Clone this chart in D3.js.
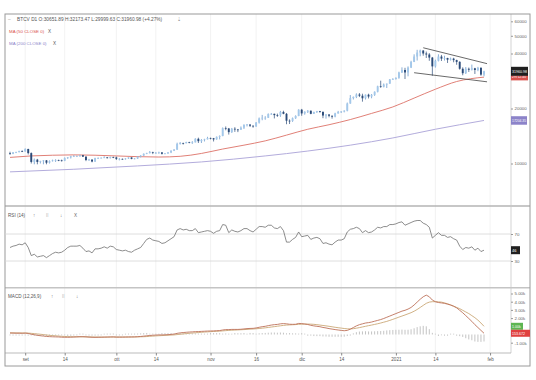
<!DOCTYPE html>
<html><head><meta charset="utf-8">
<script src="https://cdn.jsdelivr.net/npm/d3@7"></script>
<style>html,body{margin:0;padding:0;background:#fff;}svg{display:block;font-family:"Liberation Sans",Arial,sans-serif;}</style>
</head><body><svg id="c" width="536" height="380"></svg>
<script>
// ---------- DATA (prices in thousands USD, daily from 27 Aug 2020) ----------
const firstDay = new Date(2020, 7, 27);
const opens = [11.4,11.3,11.5,11.55,11.7,
 11.65,12.0,11.4,10.2,10.5,10.2,10.3,10.4,10.1,10.3,10.4,10.45,10.4,10.35,10.7,10.8,10.95,10.95,10.95,11.1,10.9,10.45,10.5,10.25,10.7,10.7,10.75,10.8,10.7,10.85,
 10.8,10.6,10.6,10.55,10.65,10.8,10.6,10.65,10.9,11.05,11.3,11.4,11.55,11.45,11.45,11.5,11.3,11.35,11.5,11.75,11.9,12.8,12.95,12.9,13.1,13.0,13.05,13.65,13.25,13.45,13.55,
 13.8,13.75,13.55,14.0,14.15,15.6,15.55,14.85,15.5,15.35,15.3,15.7,16.3,16.35,16.1,15.95,16.75,17.65,17.8,17.8,18.65,18.7,18.4,18.35,19.15,18.7,17.15,17.1,17.7,18.2,
 19.7,18.8,19.2,19.45,18.7,19.15,19.35,19.15,18.3,18.55,18.25,18.05,18.8,19.15,19.25,19.45,21.3,22.8,23.15,23.85,23.5,22.75,23.8,23.25,23.75,24.7,26.45,26.3,27.05,27.35,28.85,
 29.0,29.4,31.5,32.5,31.5,33.5,36.0,38.5,40.5,41.5,40.0,39.5,38.0,34.0,36.5,38.5,37.5,37.8,37.0,37.5,36.8,36.0,33.0,31.2,33.0,32.6,33.2,32.5,33.4,30.65];
const highs = [11.6,11.55,11.6,11.75,11.8,
 12.1,12.05,11.5,10.65,10.6,10.35,10.45,10.45,10.4,10.5,10.55,10.5,10.5,10.8,10.85,11.0,11.1,11.05,11.15,11.15,10.95,10.6,10.55,10.75,10.8,10.8,10.95,10.85,10.9,10.9,
 10.9,10.7,10.65,10.7,10.8,10.8,10.7,10.95,11.1,11.35,11.45,11.7,11.6,11.55,11.6,11.55,11.4,11.55,11.8,12.0,13.0,13.1,13.0,13.15,13.15,13.25,13.75,13.85,13.6,13.65,14.0,
 13.85,13.8,14.05,14.25,15.75,15.95,15.65,15.65,15.8,15.45,15.95,16.35,16.45,16.35,16.15,16.85,17.85,18.45,18.15,18.8,18.9,18.75,18.75,19.4,19.45,18.9,17.45,17.85,18.35,19.8,
 19.9,19.3,19.6,19.5,19.2,19.4,19.4,19.3,18.6,18.6,18.3,18.95,19.4,19.35,19.55,21.55,23.7,23.25,24.2,24.3,24.1,23.85,24.1,24.0,24.8,26.65,28.4,27.4,27.4,29.0,29.3,
 29.6,31.8,33.6,33.4,34.0,36.5,39.6,41.9,42.0,41.8,41.0,40.2,38.3,37.0,39.6,39.3,38.9,37.9,38.0,37.9,37.0,36.3,33.6,33.7,33.5,34.8,33.4,33.8,33.6,32.17];
const lows = [11.15,11.25,11.4,11.5,11.55,
 11.6,11.2,10.0,9.9,9.9,10.0,9.9,9.9,10.0,10.25,10.2,10.3,10.25,10.3,10.6,10.65,10.85,10.85,10.9,10.85,10.3,10.35,10.15,10.2,10.6,10.65,10.7,10.65,10.65,10.7,
 10.45,10.4,10.5,10.5,10.6,10.55,10.55,10.6,10.8,11.0,11.25,11.35,11.25,11.3,11.3,11.2,11.25,11.3,11.4,11.7,11.9,12.7,12.7,12.9,12.9,12.8,13.05,12.95,12.95,13.2,13.55,
 13.55,13.2,13.5,13.55,14.1,15.2,14.4,14.7,14.9,14.85,15.3,15.45,15.95,15.85,15.7,15.9,16.55,17.25,17.35,17.75,18.45,17.65,18.0,18.0,18.6,16.4,16.45,16.9,17.55,18.15,
 18.25,18.5,18.9,18.6,18.7,18.9,18.95,17.7,17.6,17.9,17.6,17.9,18.75,18.9,19.05,19.3,21.25,22.4,22.8,23.1,21.8,22.4,22.7,22.75,23.45,24.5,25.95,26.1,25.9,27.3,28.7,
 28.8,29.1,31.3,29.0,30.0,33.3,35.9,36.6,38.6,38.9,37.8,36.5,30.2,33.5,36.2,36.4,36.6,35.5,36.6,35.8,34.7,32.6,30.4,30.9,31.7,32.3,30.9,32.0,30.2,30.0];
const closes = [11.3,11.5,11.55,11.7,11.65,
 12.0,11.4,10.2,10.5,10.2,10.3,10.4,10.1,10.3,10.4,10.45,10.4,10.35,10.7,10.8,10.95,10.95,10.95,11.1,10.9,10.45,10.5,10.25,10.7,10.7,10.75,10.8,10.7,10.85,10.8,
 10.6,10.6,10.55,10.65,10.8,10.6,10.65,10.9,11.05,11.3,11.4,11.55,11.45,11.45,11.5,11.3,11.35,11.5,11.75,11.9,12.8,12.95,12.9,13.1,13.0,13.05,13.65,13.25,13.45,13.55,13.8,
 13.75,13.55,14.0,14.15,15.6,15.55,14.85,15.5,15.35,15.3,15.7,16.3,16.35,16.1,15.95,16.75,17.65,17.8,17.8,18.65,18.7,18.4,18.35,19.15,18.7,17.15,17.1,17.7,18.2,19.7,
 18.8,19.2,19.45,18.7,19.15,19.35,19.15,18.3,18.55,18.25,18.05,18.8,19.15,19.25,19.45,21.3,22.8,23.15,23.85,23.5,22.75,23.8,23.25,23.75,24.7,26.45,26.3,27.05,27.35,28.85,29.0,
 29.4,31.5,32.5,31.5,33.5,36.0,38.5,40.5,41.5,40.0,39.5,38.0,34.0,36.5,38.5,37.5,37.8,37.0,37.5,36.8,36.0,33.0,31.2,33.0,32.6,33.2,32.5,33.4,30.65,31.96];

// moving averages (sampled: day index, value in thousands)
const ma50Days   = [0,7,14,21,28,35,42,49,56,63,70,77,84,91,98,105,112,119,126,133,140,147,156];
const ma50Values = [10.8,11.0,11.1,11.15,11.1,11.0,10.9,10.85,10.95,11.35,12.0,12.6,13.3,14.3,15.4,16.3,17.4,18.8,20.4,22.8,25.5,28.1,29.7];
const ma200Days   = [0,21,42,63,84,98,112,126,140,156];
const ma200Values = [9.0,9.3,9.7,10.2,11.0,11.7,12.6,13.8,15.4,17.2];

// wedge trendlines (day index, price in thousands)
const upperTrend = [[136,43.0],[157,35.2]];
const lowerTrend = [[133,31.4],[157,28.0]];

const rsi = [50,52,53,55,54,57,50,
 38,40,36,37,38,35,38,41,43,42,43,46,50,52,52,52,53,49,44,45,42,48,48,49,51,49,52,51,
 47,46,45,46,44,43,46,48,50,56,62,64,61,60,59,56,57,60,63,66,76,
 78,76,77,75,75,78,72,73,74,75,
 74,71,74,75,84,83,72,76,74,73,75,78,78,75,73,77,81,81,80,83,83,79,78,81,75,58,58,62,65,73,
 66,67,68,62,64,65,63,56,57,55,54,58,61,61,63,73,77,78,80,78,72,75,72,73,76,80,79,81,81,84,84,
 85,87,88,83,85,87,89,90,90,86,84,80,64,68,72,68,68,65,66,63,61,52,47,50,49,51,46,49,44,46];

// MACD (thousands)
const macd = [0.18,0.17,0.16,0.16,0.15,0.17,0.13,
 0.03,-0.03,-0.1,-0.15,-0.19,-0.24,-0.26,-0.28,-0.29,-0.3,
 -0.33,-0.34,-0.34,-0.33,-0.31,-0.29,-0.27,-0.27,-0.29,-0.32,-0.34,-0.35,-0.34,-0.33,-0.32,-0.31,-0.3,-0.29,
 -0.32,-0.32,-0.32,-0.31,-0.3,-0.3,-0.29,-0.27,-0.24,-0.2,-0.16,-0.12,-0.09,-0.07,-0.05,-0.05,-0.04,-0.02,0.01,0.05,0.14,
 0.2,0.24,0.27,0.3,0.32,0.35,0.36,0.38,0.4,0.42,
 0.43,0.44,0.46,0.48,0.55,0.6,0.6,0.62,0.62,0.62,0.64,0.68,0.72,0.74,0.75,0.8,0.88,0.95,1.0,1.08,1.15,1.2,1.23,1.3,1.33,1.3,1.25,1.24,1.25,1.35,
 1.33,1.28,1.22,1.12,1.05,1.0,0.95,0.86,0.8,0.72,0.66,0.6,0.55,0.5,0.46,0.5,0.65,0.85,1.05,1.2,1.3,1.4,1.45,1.52,1.62,1.72,1.82,1.95,2.1,2.25,2.4,
 2.55,2.7,2.85,2.95,3.1,3.3,3.6,3.95,4.3,4.6,4.8,4.6,4.2,4.0,3.9,3.85,3.8,3.7,3.6,3.45,3.25,2.95,2.65,2.3,1.95,1.6,1.2,0.85,0.5,0.15];
const signal = [0.2,0.2,0.19,0.19,0.18,0.18,0.17,
 0.14,0.11,0.07,0.03,-0.01,-0.06,-0.1,-0.13,-0.16,-0.19,
 -0.22,-0.24,-0.26,-0.27,-0.28,-0.28,-0.28,-0.28,-0.28,-0.29,-0.3,-0.31,-0.31,-0.32,-0.32,-0.32,-0.31,-0.31,
 -0.31,-0.31,-0.31,-0.31,-0.31,-0.3,-0.3,-0.29,-0.28,-0.27,-0.25,-0.22,-0.2,-0.17,-0.15,-0.13,-0.11,-0.09,-0.07,-0.05,-0.01,
 0.03,0.07,0.11,0.15,0.18,0.21,0.24,0.27,0.3,0.32,
 0.35,0.37,0.39,0.41,0.44,0.47,0.5,0.52,0.54,0.56,0.58,0.6,0.62,0.65,0.67,0.7,0.73,0.77,0.81,0.86,0.91,0.96,1.01,1.06,1.11,1.15,1.17,1.19,1.21,1.24,
 1.26,1.27,1.27,1.26,1.24,1.2,1.15,1.1,1.05,1.0,0.94,0.88,0.83,0.78,0.73,0.69,0.68,0.71,0.77,0.84,0.92,1.0,1.08,1.15,1.23,1.31,1.4,1.5,1.6,1.72,1.85,
 1.98,2.12,2.25,2.38,2.52,2.66,2.84,3.05,3.3,3.55,3.8,3.95,4.0,4.0,3.98,3.95,3.85,3.75,3.6,3.45,3.3,3.15,2.95,2.75,2.55,2.3,2.05,1.75,1.4,1.0];

// axis ticks
const timeTickDates  = ["2020-09-01","2020-09-14","2020-10-01","2020-10-14","2020-11-01","2020-11-16","2020-12-01","2020-12-14","2021-01-01","2021-01-14","2021-02-01"];
const timeTickLabels = ["set","14","ott","14","nov","16","dic","14","2021","14","feb"];
const priceTicks = [10,20,40,50,60];
const priceTickLabels = ["10000","20000","40000","50000","60000"];
const rsiTicks = [70,30];
const macdTicks = [5,4,3,2,-1];
const macdTickLabels = ["5.00k","4.00k","3.00k","2.00k","-1.00k"];

const headerText = "BTCV D1 O:30651.89 H:32173.47 L:29999.63 C:31960.98 (+4.27%)";
const closeLabel = "31960.98", ma50Label = "29712.40", ma200Label = "17204.35";
const rsiLabel = "46", signalLabel = "1.00k", macdLabel = "153.672";

// ---------- DRAW ----------
const svg = d3.select("#c");
svg.append("rect").attr("width",536).attr("height",380).attr("fill","#fff");
const L = 5, R = 511, FR = 530, TOP = 14, AX = 353, BOT = 366;
const dates = closes.map((_, i) => d3.timeDay.offset(firstDay, i));
const parse = d3.timeParse("%Y-%m-%d");
const x = d3.scaleTime().domain([dates[0], dates[dates.length-1]]).range([10, 484]);
const xi = i => x(d3.timeDay.offset(firstDay, i));
const yP = d3.scaleLog().domain([10, 40]).range([163.5, 53.5]);
const yR = d3.scaleLinear().domain([30, 70]).range([261, 234]);
const yM = d3.scaleLinear().domain([0, 5]).range([334.5, 293.5]);

const defs = svg.append("defs");
[["cpP",TOP,206],["cpR",207,287],["cpM",289,AX]].forEach(([id,a,b])=>{
  defs.append("clipPath").attr("id",id).append("rect").attr("x",L).attr("y",a).attr("width",R-L).attr("height",b-a);
});

// grid lines
const tds = timeTickDates.map(parse);
svg.append("g").selectAll("line").data(tds).join("line")
  .attr("x1",d=>x(d)).attr("x2",d=>x(d)).attr("y1",TOP).attr("y2",AX)
  .attr("stroke","#efefef").attr("stroke-width",0.8);

// pane separators / frame
svg.append("line").attr("x1",L).attr("x2",FR).attr("y1",206).attr("y2",206).attr("stroke","#b5b5b5").attr("stroke-width",1.6);
svg.append("line").attr("x1",L).attr("x2",FR).attr("y1",287.8).attr("y2",287.8).attr("stroke","#c4c4c4").attr("stroke-width",1.6);
svg.append("line").attr("x1",R).attr("x2",R).attr("y1",TOP).attr("y2",AX).attr("stroke","#c8c8c8").attr("stroke-width",0.8);
svg.append("line").attr("x1",L).attr("x2",R).attr("y1",AX).attr("y2",AX).attr("stroke","#aaa").attr("stroke-width",0.8);
svg.append("rect").attr("x",L).attr("y",TOP).attr("width",FR-L).attr("height",BOT-TOP)
  .attr("fill","none").attr("stroke","#9a9a9a").attr("stroke-width",1);

// ---- price pane ----
const gP = svg.append("g").attr("clip-path","url(#cpP)");
const lineIdx = sy => d3.line().x(d=>xi(d[0])).y(d=>sy(d[1])).curve(d3.curveMonotoneX);
gP.append("path").attr("d", lineIdx(yP)(ma200Days.map((d,i)=>[d,ma200Values[i]])))
  .attr("fill","none").attr("stroke","#b3acdc").attr("stroke-width",1);
gP.append("path").attr("d", lineIdx(yP)(ma50Days.map((d,i)=>[d,ma50Values[i]])))
  .attr("fill","none").attr("stroke","#dc7268").attr("stroke-width",0.9);

const candles = closes.map((c,i)=>({i, o:opens[i], h:highs[i], l:lows[i], c}));
gP.append("g").selectAll("line").data(candles).join("line")
  .attr("x1",d=>xi(d.i)).attr("x2",d=>xi(d.i)).attr("y1",d=>yP(d.h)).attr("y2",d=>yP(d.l))
  .attr("stroke",d=>d.c>=d.o?"#5a8ec5":"#2a4a78").attr("stroke-width",0.7);
gP.append("g").selectAll("rect").data(candles).join("rect")
  .attr("x",d=>xi(d.i)-0.95).attr("width",1.9)
  .attr("y",d=>yP(Math.max(d.o,d.c)))
  .attr("height",d=>Math.max(0.7, Math.abs(yP(d.o)-yP(d.c))))
  .attr("fill",d=>d.c>=d.o?"#a3c8ea":"#2a4a78");

const tl = d3.line().x(d=>xi(d[0])).y(d=>yP(d[1]));
[upperTrend, lowerTrend].forEach(t=>{
  gP.append("path").attr("d",tl(t)).attr("fill","none").attr("stroke","#444").attr("stroke-width",0.8);
});

// price axis
const axP = svg.append("g").attr("transform",`translate(${R},0)`)
  .call(d3.axisRight(yP).tickValues(priceTicks).tickFormat((d,i)=>priceTickLabels[i]).tickSize(2).tickPadding(1.5));
axP.select(".domain").remove();
axP.selectAll("line").attr("stroke","#999");
axP.selectAll("text").attr("font-size",4.4).attr("fill","#666").attr("font-family","Liberation Sans, Arial");

function box(yc, w, h, fill, label, fs){
  svg.append("rect").attr("x",R).attr("y",yc-h/2).attr("width",w).attr("height",h).attr("fill",fill);
  svg.append("text").attr("x",R+1).attr("y",yc).attr("dy","0.35em").attr("font-size",fs)
    .attr("fill","#fff").text(label);
}
box(yP(ma200Values[ma200Values.length-1]), 16, 8.5, "#8c83c9", ma200Label, 3.4);
box(yP(ma50Values[ma50Values.length-1]), 17, 6.5, "#d9534f", ma50Label, 3.4);
box(yP(closes[closes.length-1]), 17, 9, "#1f1f1f", closeLabel, 3.6);

// header
const hdr = svg.append("g").attr("font-size",4.8).attr("fill","#555");
hdr.append("text").attr("x",8).attr("y",19.5).attr("dy","0.35em").attr("fill","#999").text("–");
hdr.append("text").attr("x",17).attr("y",19.5).attr("dy","0.35em").text(headerText);
hdr.append("text").attr("x",177).attr("y",19.5).attr("dy","0.35em").attr("fill","#888").text("⇣");
hdr.append("text").attr("x",9).attr("y",31).attr("dy","0.35em").attr("fill","#d9534f").attr("font-size",4.4).text("MA (50 CLOSE 0)");
hdr.append("text").attr("x",48).attr("y",31).attr("dy","0.35em").attr("fill","#555").attr("font-size",4.6).text("X");
hdr.append("text").attr("x",9).attr("y",43).attr("dy","0.35em").attr("fill","#8c83c9").attr("font-size",4.4).text("MA (200 CLOSE 0)");
hdr.append("text").attr("x",53).attr("y",43).attr("dy","0.35em").attr("fill","#555").attr("font-size",4.6).text("X");

// ---- RSI pane ----
const gR = svg.append("g").attr("clip-path","url(#cpR)");
rsiTicks.forEach(v=>{
  gR.append("line").attr("x1",L).attr("x2",R).attr("y1",yR(v)).attr("y2",yR(v)).attr("stroke","#d6d6d6").attr("stroke-width",0.8);
});
gR.append("path").attr("d", d3.line().x((d,i)=>xi(i)).y(d=>yR(d))(rsi))
  .attr("fill","none").attr("stroke","#707070").attr("stroke-width",0.8);
const axR = svg.append("g").attr("transform",`translate(${R},0)`)
  .call(d3.axisRight(yR).tickValues(rsiTicks).tickSize(2).tickPadding(1.5));
axR.select(".domain").remove();
axR.selectAll("line").attr("stroke","#999");
axR.selectAll("text").attr("font-size",4.4).attr("fill","#666").attr("font-family","Liberation Sans, Arial");
box(yR(rsi[rsi.length-1]), 9, 8, "#1f1f1f", rsiLabel, 4);

function paneTitle(y, title, xs){
  const g = svg.append("g").attr("font-size",4.6).attr("fill","#555");
  g.append("text").attr("x",8).attr("y",y).attr("dy","0.35em").text(title);
  const icons = ["↑","⁞⁞","↓","X"];
  xs.forEach((xx,k)=> g.append("text").attr("x",xx).attr("y",y).attr("dy","0.35em").attr("fill","#666").text(icons[k]));
}
paneTitle(215, "RSI (14)", [33,46,60,74]);

// ---- MACD pane ----
const gM = svg.append("g").attr("clip-path","url(#cpM)");
gM.append("g").selectAll("line").data(macd).join("line")
  .attr("x1",(d,i)=>xi(i)).attr("x2",(d,i)=>xi(i))
  .attr("y1",yM(0)).attr("y2",(d,i)=>{const v=d-signal[i]; return yM(v)+(Math.abs(yM(v)-yM(0))<0.8?(v>=0?-0.8:0.8):0);})
  .attr("stroke","#bdbdbd").attr("stroke-width",0.9);
gM.append("path").attr("d", d3.line().x((d,i)=>xi(i)).y(d=>yM(d))(signal))
  .attr("fill","none").attr("stroke","#cba877").attr("stroke-width",0.9);
gM.append("path").attr("d", d3.line().x((d,i)=>xi(i)).y(d=>yM(d))(macd))
  .attr("fill","none").attr("stroke","#bd725a").attr("stroke-width",0.9);
const axM = svg.append("g").attr("transform",`translate(${R},0)`)
  .call(d3.axisRight(yM).tickValues(macdTicks).tickFormat((d,i)=>macdTickLabels[i]).tickSize(2).tickPadding(1.5));
axM.select(".domain").remove();
axM.selectAll("line").attr("stroke","#999");
axM.selectAll("text").attr("font-size",4.4).attr("fill","#666").attr("font-family","Liberation Sans, Arial");
box(yM(signal[signal.length-1]), 12, 7, "#5db553", signalLabel, 3.6);
box(yM(macd[macd.length-1]), 19, 7, "#e0413f", macdLabel, 3.6);
paneTitle(296, "MACD (12,26,9)", [51,62,76]);

// ---- time axis ----
const axT = svg.append("g").attr("transform",`translate(0,${AX})`)
  .call(d3.axisBottom(x).tickValues(tds).tickFormat((d,i)=>timeTickLabels[i]).tickSize(2.5).tickPadding(2));
axT.select(".domain").remove();
axT.selectAll("line").attr("stroke","#888");
axT.selectAll("text").attr("font-size",4.6).attr("fill","#555").attr("font-family","Liberation Sans, Arial");
</script></body></html>
